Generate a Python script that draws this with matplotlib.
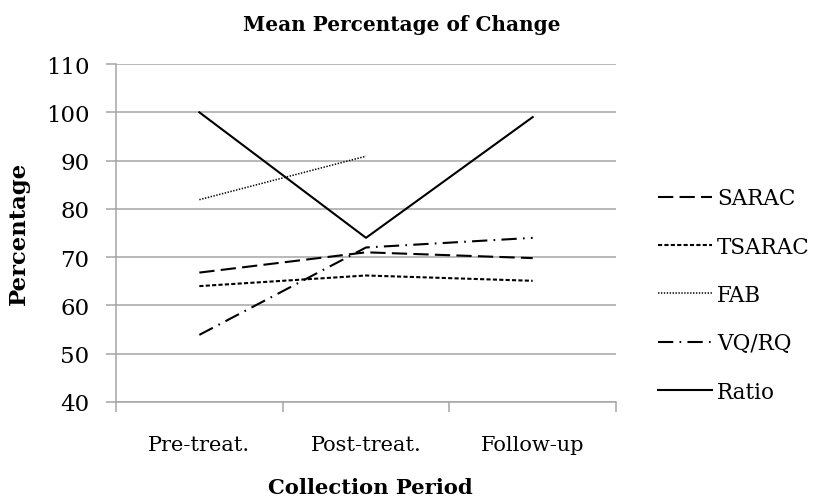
import numpy as np
import matplotlib.pyplot as plt

periods = ['Pre-treat.', 'Post-treat.', 'Follow-up']
sarac = [66.8, 71.0, 69.8]
tsarac = [64.0, 66.2, 65.1]
fab = [81.9, 90.9, np.nan]
vqrq = [53.9, 72.0, 74.0]
ratio = [100.0, 74.0, 99.0]

plt.rcParams['font.family'] = 'DejaVu Serif'
plt.rcParams['lines.scale_dashes'] = False

fig = plt.figure(figsize=(8.14, 5.02), dpi=100)
ax = fig.add_axes([116 / 814, 1 - 403 / 502, 500 / 814, 338 / 502])

x = np.arange(len(periods))
lw = 1.5
ax.plot(x, sarac, color='black', lw=lw, dashes=(11, 4.5), label='SARAC')
ax.plot(x, tsarac, color='black', lw=lw, dashes=(3, 1.6), label='TSARAC')
ax.plot(x, fab, color='black', lw=1.1, dashes=(1, 1.1), label='FAB')
ax.plot(x, vqrq, color='black', lw=lw, dashes=(11, 4.5, 1.2, 4.5), label='VQ/RQ')
ax.plot(x, ratio, color='black', lw=lw, label='Ratio')

ax.set_xlim(-0.5, 2.5)
ax.set_ylim(40, 110)
ax.set_yticks(np.arange(40, 111, 10))
ax.yaxis.grid(True, color='#a6a6a6', lw=1.1)
ax.set_axisbelow(True)

ax.set_xticks(x)
ax.set_xticklabels(periods)
ax.set_xticks([-0.5, 0.5, 1.5, 2.5], minor=True)
ax.tick_params(axis='x', which='major', length=0, pad=24, labelsize=15)
ax.tick_params(axis='x', which='minor', length=7, width=1.1, color='#a6a6a6', direction='out')
ax.tick_params(axis='y', length=7, width=1.1, color='#a6a6a6', direction='out', pad=12, labelsize=16.5)

for s in ['top', 'right']:
    ax.spines[s].set_visible(False)
for s in ['left', 'bottom']:
    ax.spines[s].set_color('#a6a6a6')
    ax.spines[s].set_linewidth(1.1)

fig.text(402 / 814, 1 - 25 / 502, 'Mean Percentage of Change', ha='center', va='center',
         fontsize=14.4, fontweight='bold')
fig.text(370 / 814, 1 - 488 / 502, 'Collection Period', ha='center', va='center',
         fontsize=15.2, fontweight='bold')
fig.text(19 / 814, 1 - 233 / 502, 'Percentage', ha='center', va='center',
         rotation=90, fontsize=16.4, fontweight='bold')

fig.legend(loc='center left', bbox_to_anchor=(658 / 814, 1 - 296 / 502), frameon=False,
           fontsize=15.5, handlelength=2.5, handletextpad=0.25, labelspacing=1.23,
           borderpad=0, borderaxespad=0)

fig.savefig('out.png', dpi=100)
